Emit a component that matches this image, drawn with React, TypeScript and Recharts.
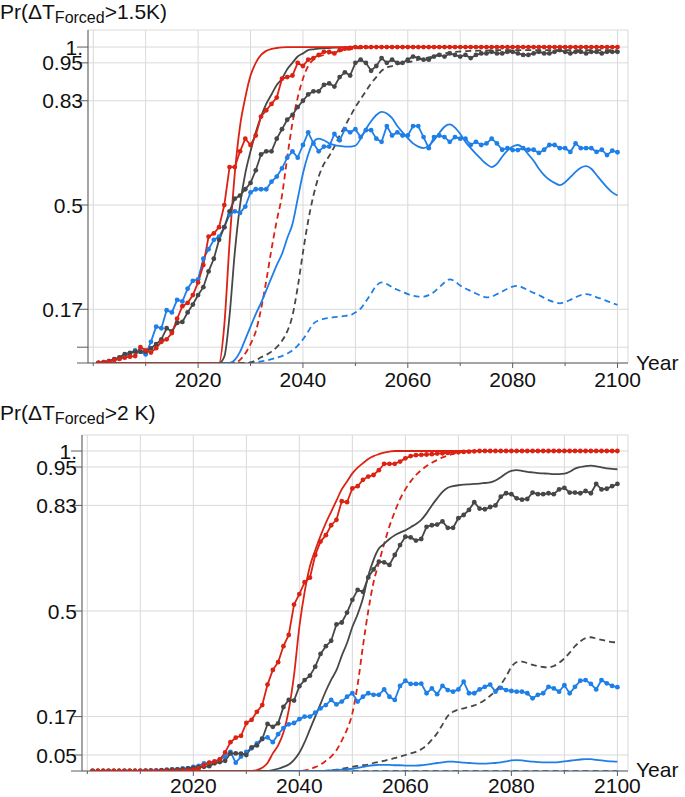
import { LineChart, Line, XAxis, YAxis, CartesianGrid } from 'recharts';

const RED = '#dc2212';
const BLUE = '#1f7fe8';
const GRAY = '#474747';
const AXIS = '#5c5c5c';
const GRID = '#d9d9d9';
const FONT = '"Liberation Sans", Arial, Helvetica, sans-serif';

const YEARS = Array.from({ length: 100 }, (_, i) => 2001 + i);
const X_TICKS = [2000, 2010, 2020, 2030, 2040, 2050, 2060, 2070, 2080, 2090, 2100];
const Y_TICKS = [0, 0.05, 0.17, 0.5, 0.83, 0.95, 1];
const TOP_Y_LABELS = ['', '', '0.17', '0.5', '0.83', '0.95', '1.'];
const BOTTOM_Y_LABELS = ['', '0.05', '0.17', '0.5', '0.83', '0.95', '1.'];

// ---- Pr(dT > 1.5K), 2001..2100 ----
const RED_DOTS_15 = [
  0, 0.003, 0.006, 0.01, 0.013, 0.017, 0.02, 0.022, 0.05, 0.04,
  0.033, 0.047, 0.067, 0.075, 0.095, 0.14, 0.18, 0.19, 0.215, 0.255,
  0.31, 0.4, 0.41, 0.43, 0.5, 0.62, 0.62, 0.67, 0.71, 0.69,
  0.72, 0.78, 0.8, 0.82, 0.84, 0.9, 0.905, 0.91, 0.95, 0.94,
  0.96, 0.965, 0.975, 0.985, 0.985, 0.98, 0.99, 0.995, 0.997, 1,
  1, 1, 1, 1, 1, 1, 1, 1, 1, 1,
  1, 1, 1, 1, 1, 1, 1, 1, 1, 1,
  1, 1, 1, 1, 1, 1, 1, 1, 1, 1,
  1, 1, 1, 1, 1, 1, 1, 1, 1, 1,
  1, 1, 1, 1, 1, 1, 1, 1, 1, 1,
];
const RED_LINE_15 = [
  0, 0, 0, 0, 0, 0, 0, 0, 0, 0,
  0, 0, 0, 0, 0, 0, 0, 0, 0, 0,
  0, 0, 0, 0, 0.12, 0.38, 0.6, 0.75, 0.84, 0.91,
  0.95, 0.975, 0.988, 0.994, 0.997, 0.999, 1, 1, 1, 1,
  1, 1, 1, 1, 1, 1, 1, 1, 1, 1,
  1, 1, 1, 1, 1, 1, 1, 1, 1, 1,
  1, 1, 1, 1, 1, 1, 1, 1, 1, 1,
  1, 1, 1, 1, 1, 1, 1, 1, 1, 1,
  1, 1, 1, 1, 1, 1, 1, 1, 1, 1,
  1, 1, 1, 1, 1, 1, 1, 1, 1, 1,
];
const RED_DASH_15 = [
  0, 0, 0, 0, 0, 0, 0, 0, 0, 0,
  0, 0, 0, 0, 0, 0, 0, 0, 0, 0,
  0, 0, 0, 0, 0, 0, 0, 0.01, 0.03, 0.06,
  0.1, 0.17, 0.26, 0.36, 0.45, 0.53, 0.65, 0.76, 0.84, 0.9,
  0.94, 0.96, 0.97, 0.975, 0.98, 0.985, 0.988, 0.99, 0.993, 0.995,
  0.997, 0.998, 0.999, 1, 1, 1, 1, 1, 1, 1,
  1, 1, 1, 1, 1, 1, 1, 1, 1, 1,
  1, 1, 1, 1, 1, 1, 1, 1, 1, 1,
  1, 1, 1, 1, 1, 1, 1, 1, 1, 1,
  1, 1, 1, 1, 1, 1, 1, 1, 1, 1,
];
const GRAY_DOTS_15 = [
  0, 0.002, 0.006, 0.012, 0.018, 0.028, 0.032, 0.036, 0.036, 0.036,
  0.046, 0.06, 0.075, 0.11, 0.1, 0.127, 0.13, 0.16, 0.185, 0.215,
  0.24, 0.29, 0.33, 0.39, 0.43, 0.48, 0.52, 0.53, 0.55, 0.57,
  0.61, 0.66, 0.67, 0.67, 0.71, 0.74, 0.77, 0.785, 0.81, 0.83,
  0.85, 0.86, 0.86, 0.88, 0.885, 0.875, 0.905, 0.92, 0.91, 0.95,
  0.96, 0.95, 0.925, 0.94, 0.965, 0.95, 0.96, 0.95, 0.95, 0.96,
  0.97, 0.965, 0.96, 0.96, 0.97, 0.975, 0.97, 0.98, 0.975, 0.97,
  0.975, 0.965, 0.975, 0.98, 0.98, 0.985, 0.98, 0.98, 0.985, 0.985,
  0.98, 0.975, 0.975, 0.98, 0.985, 0.98, 0.98, 0.985, 0.99, 0.985,
  0.98, 0.985, 0.985, 0.98, 0.985, 0.985, 0.98, 0.985, 0.985, 0.985,
];
const GRAY_LINE_15 = [
  0, 0, 0, 0, 0, 0, 0, 0, 0, 0,
  0, 0, 0, 0, 0, 0, 0, 0, 0, 0,
  0, 0, 0, 0, 0.02, 0.15, 0.35, 0.5, 0.6, 0.67,
  0.73, 0.78, 0.82, 0.85, 0.88, 0.9, 0.93, 0.95, 0.97, 0.98,
  0.99, 0.993, 0.995, 0.996, 0.997, 0.998, 0.998, 0.999, 0.999, 1,
  1, 1, 1, 1, 1, 1, 1, 1, 1, 1,
  1, 1, 1, 1, 1, 1, 1, 1, 1, 1,
  1, 1, 1, 1, 1, 1, 1, 1, 1, 1,
  1, 1, 1, 1, 1, 1, 1, 1, 1, 1,
  1, 1, 1, 1, 1, 1, 1, 1, 1, 1,
];
const GRAY_DASH_15 = [
  0, 0, 0, 0, 0, 0, 0, 0, 0, 0,
  0, 0, 0, 0, 0, 0, 0, 0, 0, 0,
  0, 0, 0, 0, 0, 0, 0, 0, 0, 0.002,
  0.008, 0.018, 0.026, 0.036, 0.05, 0.07, 0.1, 0.15, 0.24, 0.35,
  0.45, 0.53, 0.59, 0.63, 0.655, 0.685, 0.72, 0.75, 0.78, 0.81,
  0.835, 0.86, 0.885, 0.905, 0.925, 0.935, 0.94, 0.945, 0.95, 0.952,
  0.955, 0.96, 0.963, 0.967, 0.972, 0.977, 0.98, 0.983, 0.985, 0.986,
  0.987, 0.988, 0.988, 0.989, 0.989, 0.99, 0.99, 0.99, 0.99, 0.99,
  0.99, 0.99, 0.99, 0.99, 0.99, 0.99, 0.99, 0.99, 0.99, 0.99,
  0.99, 0.99, 0.99, 0.99, 0.99, 0.99, 0.99, 0.99, 0.99, 0.99,
];
const BLUE_DOTS_15 = [
  0, 0.003, 0.006, 0.01, 0.015, 0.02, 0.03, 0.04, 0.036, 0.027,
  0.067, 0.115, 0.11, 0.167, 0.16, 0.2, 0.195, 0.235, 0.26, 0.265,
  0.33, 0.36, 0.39, 0.4, 0.43, 0.47, 0.48, 0.475, 0.495, 0.54,
  0.55, 0.55, 0.55, 0.574, 0.59, 0.616, 0.65, 0.67, 0.65, 0.69,
  0.73, 0.695, 0.67, 0.685, 0.685, 0.725, 0.705, 0.74, 0.73, 0.74,
  0.715, 0.737, 0.737, 0.71, 0.7, 0.75, 0.72, 0.73, 0.72, 0.72,
  0.75, 0.75, 0.715, 0.68, 0.715, 0.72, 0.715, 0.7, 0.715, 0.71,
  0.71, 0.69, 0.7, 0.69, 0.695, 0.71, 0.695, 0.675, 0.68, 0.674,
  0.674, 0.68, 0.675, 0.675, 0.665, 0.675, 0.69, 0.69, 0.68, 0.68,
  0.668, 0.695, 0.68, 0.68, 0.68, 0.668, 0.675, 0.658, 0.672, 0.667,
];
const BLUE_LINE_15 = [
  0, 0, 0, 0, 0, 0, 0, 0, 0, 0,
  0, 0, 0, 0, 0, 0, 0, 0, 0, 0,
  0, 0, 0, 0, 0, 0, 0.01, 0.035, 0.075, 0.115,
  0.155, 0.19, 0.23, 0.27, 0.31, 0.345, 0.395, 0.44, 0.52, 0.6,
  0.66, 0.7, 0.71, 0.705, 0.695, 0.69, 0.687, 0.685, 0.685, 0.688,
  0.71, 0.74, 0.765, 0.785, 0.795, 0.79, 0.775, 0.75, 0.73, 0.712,
  0.695, 0.685, 0.68, 0.688, 0.705, 0.728, 0.748, 0.755, 0.745, 0.725,
  0.7, 0.68, 0.662, 0.645, 0.63, 0.62, 0.63, 0.653, 0.672, 0.685,
  0.69, 0.68, 0.66, 0.64, 0.615, 0.595, 0.58, 0.57, 0.563, 0.572,
  0.588, 0.605, 0.618, 0.623, 0.615, 0.595, 0.575, 0.556, 0.54, 0.53,
];
const BLUE_DASH_15 = [
  0, 0, 0, 0, 0, 0, 0, 0, 0, 0,
  0, 0, 0, 0, 0, 0, 0, 0, 0, 0,
  0, 0, 0, 0, 0, 0, 0, 0, 0, 0.001,
  0.003, 0.005, 0.008, 0.012, 0.017, 0.022, 0.03, 0.04, 0.055, 0.075,
  0.1, 0.125, 0.135, 0.14, 0.143, 0.145, 0.147, 0.149, 0.151, 0.16,
  0.172, 0.195, 0.22, 0.245, 0.255, 0.25, 0.24, 0.232, 0.225, 0.218,
  0.213, 0.21, 0.21, 0.215, 0.225, 0.24, 0.255, 0.265, 0.258, 0.245,
  0.236, 0.228, 0.22, 0.213, 0.208, 0.21, 0.218, 0.226, 0.235, 0.242,
  0.244, 0.238, 0.23, 0.222, 0.215, 0.206, 0.198, 0.192, 0.189, 0.193,
  0.2, 0.208, 0.215, 0.218, 0.215, 0.208, 0.203, 0.196, 0.19, 0.184,
];

// ---- Pr(dT > 2 K), 2001..2100 ----
const RED_DOTS_2 = [
  0, 0, 0, 0, 0, 0, 0, 0, 0, 0,
  0, 0, 0, 0, 0, 0, 0, 0, 0.002, 0.004,
  0.008, 0.018, 0.026, 0.03, 0.036, 0.058, 0.09, 0.104, 0.11, 0.15,
  0.16, 0.185, 0.206, 0.27, 0.316, 0.34, 0.39, 0.425, 0.52, 0.553,
  0.59, 0.604, 0.675, 0.717, 0.737, 0.768, 0.785, 0.843, 0.84, 0.883,
  0.89, 0.91, 0.92, 0.925, 0.94, 0.96, 0.96, 0.96, 0.967, 0.977,
  0.984, 0.987, 0.988, 0.989, 0.99, 0.992, 0.993, 0.994, 0.995, 0.996,
  0.997, 0.998, 0.999, 1, 1, 1, 1, 1, 1, 1,
  1, 1, 1, 1, 1, 1, 1, 1, 1, 1,
  1, 1, 1, 1, 1, 1, 1, 1, 1, 1,
];
const RED_LINE_2 = [
  0, 0, 0, 0, 0, 0, 0, 0, 0, 0,
  0, 0, 0, 0, 0, 0, 0, 0, 0, 0,
  0, 0, 0, 0, 0, 0, 0, 0, 0, 0,
  0, 0.003, 0.01, 0.025, 0.055, 0.08, 0.12, 0.19, 0.3, 0.45,
  0.56, 0.64, 0.69, 0.735, 0.775, 0.81, 0.845, 0.88, 0.905, 0.93,
  0.948, 0.962, 0.975, 0.984, 0.99, 0.995, 0.998, 1, 1, 1,
  1, 1, 1, 1, 1, 1, 1, 1, 1, 1,
  1, 1, 1, 1, 1, 1, 1, 1, 1, 1,
  1, 1, 1, 1, 1, 1, 1, 1, 1, 1,
  1, 1, 1, 1, 1, 1, 1, 1, 1, 1,
];
const RED_DASH_2 = [
  0, 0, 0, 0, 0, 0, 0, 0, 0, 0,
  0, 0, 0, 0, 0, 0, 0, 0, 0, 0,
  0, 0, 0, 0, 0, 0, 0, 0, 0, 0,
  0, 0, 0, 0, 0, 0, 0, 0, 0, 0,
  0.002, 0.006, 0.012, 0.02, 0.032, 0.045, 0.065, 0.095, 0.13, 0.18,
  0.27, 0.39, 0.5, 0.59, 0.65, 0.71, 0.765, 0.81, 0.85, 0.88,
  0.905, 0.925, 0.94, 0.953, 0.963, 0.972, 0.98, 0.986, 0.991, 0.995,
  0.998, 1, 1, 1, 1, 1, 1, 1, 1, 1,
  1, 1, 1, 1, 1, 1, 1, 1, 1, 1,
  1, 1, 1, 1, 1, 1, 1, 1, 1, 1,
];
const GRAY_DOTS_2 = [
  0, 0, 0, 0, 0, 0, 0, 0, 0, 0,
  0, 0, 0, 0.002, 0.003, 0.004, 0.005, 0.006, 0.008, 0.01,
  0.012, 0.013, 0.015, 0.024, 0.028, 0.032, 0.055, 0.055, 0.054, 0.05,
  0.074, 0.08, 0.1, 0.147, 0.138, 0.149, 0.2, 0.222, 0.22, 0.265,
  0.284, 0.298, 0.326, 0.366, 0.39, 0.407, 0.458, 0.464, 0.495, 0.535,
  0.566, 0.56, 0.605, 0.63, 0.654, 0.652, 0.644, 0.675, 0.706, 0.732,
  0.73, 0.72, 0.725, 0.763, 0.768, 0.77, 0.78, 0.76, 0.76, 0.79,
  0.8, 0.816, 0.84, 0.82, 0.818, 0.825, 0.83, 0.857, 0.868, 0.865,
  0.852, 0.848, 0.85, 0.87, 0.865, 0.865, 0.868, 0.865, 0.88, 0.885,
  0.87, 0.87, 0.868, 0.875, 0.868, 0.897, 0.88, 0.882, 0.89, 0.897,
];
const GRAY_LINE_2 = [
  0, 0, 0, 0, 0, 0, 0, 0, 0, 0,
  0, 0, 0, 0, 0, 0, 0, 0, 0, 0,
  0, 0, 0, 0, 0, 0, 0, 0, 0, 0,
  0, 0, 0, 0, 0.003, 0.007, 0.013, 0.02, 0.035, 0.057,
  0.09, 0.13, 0.17, 0.21, 0.25, 0.285, 0.315, 0.36, 0.4, 0.45,
  0.49, 0.54, 0.61, 0.66, 0.695, 0.71, 0.725, 0.737, 0.745, 0.752,
  0.762, 0.772, 0.785, 0.805, 0.83, 0.852, 0.872, 0.885, 0.89, 0.893,
  0.895, 0.896, 0.897, 0.898, 0.9, 0.902, 0.908, 0.918, 0.93, 0.938,
  0.94, 0.938, 0.935, 0.933, 0.931, 0.93, 0.929, 0.928, 0.928, 0.929,
  0.935, 0.945, 0.95, 0.953, 0.954, 0.952, 0.949, 0.946, 0.944, 0.943,
];
const GRAY_DASH_2 = [
  0, 0, 0, 0, 0, 0, 0, 0, 0, 0,
  0, 0, 0, 0, 0, 0, 0, 0, 0, 0,
  0, 0, 0, 0, 0, 0, 0, 0, 0, 0,
  0, 0, 0, 0, 0, 0, 0, 0, 0, 0,
  0, 0, 0, 0, 0, 0.002, 0.004, 0.007, 0.01, 0.013,
  0.016, 0.018, 0.02, 0.025, 0.028, 0.032, 0.036, 0.04, 0.045, 0.05,
  0.055, 0.06, 0.068, 0.08, 0.098, 0.118, 0.145, 0.172, 0.185, 0.192,
  0.196, 0.2, 0.205, 0.212, 0.222, 0.235, 0.25, 0.27, 0.295, 0.325,
  0.34, 0.342, 0.337, 0.332, 0.328, 0.325, 0.324, 0.328, 0.338, 0.352,
  0.37, 0.39, 0.405, 0.415, 0.418, 0.414, 0.41, 0.406, 0.403, 0.402,
];
const BLUE_DOTS_2 = [
  0, 0, 0, 0, 0, 0, 0, 0, 0, 0,
  0.001, 0.002, 0.002, 0.003, 0.004, 0.005, 0.005, 0.008, 0.008, 0.013,
  0.016, 0.024, 0.025, 0.028, 0.036, 0.045, 0.06, 0.026, 0.045, 0.06,
  0.071, 0.086, 0.102, 0.105, 0.09, 0.115, 0.134, 0.146, 0.15, 0.162,
  0.17, 0.17, 0.182, 0.196, 0.206, 0.222, 0.208, 0.217, 0.232, 0.243,
  0.217, 0.232, 0.243, 0.238, 0.238, 0.255, 0.232, 0.222, 0.266, 0.282,
  0.272, 0.272, 0.273, 0.243, 0.258, 0.24, 0.266, 0.253, 0.248, 0.255,
  0.279, 0.243, 0.243, 0.255, 0.263, 0.27, 0.248, 0.26, 0.253, 0.25,
  0.248, 0.248, 0.243, 0.227, 0.238, 0.243, 0.263, 0.258, 0.248, 0.268,
  0.243, 0.263, 0.282, 0.284, 0.272, 0.255, 0.284, 0.274, 0.266, 0.262,
];
const BLUE_LINE_2 = [
  0, 0, 0, 0, 0, 0, 0, 0, 0, 0,
  0, 0, 0, 0, 0, 0, 0, 0, 0, 0,
  0, 0, 0, 0, 0, 0, 0, 0, 0, 0,
  0, 0, 0, 0, 0, 0, 0, 0, 0, 0,
  0, 0, 0, 0, 0.001, 0.002, 0.003, 0.004, 0.005, 0.007,
  0.01, 0.013, 0.016, 0.018, 0.019, 0.019, 0.019, 0.018, 0.018, 0.017,
  0.017, 0.017, 0.018, 0.02, 0.022, 0.025, 0.027, 0.029, 0.029, 0.028,
  0.026, 0.025, 0.024, 0.023, 0.023, 0.024, 0.025, 0.027, 0.03, 0.033,
  0.034, 0.033, 0.031, 0.029, 0.028, 0.027, 0.027, 0.027, 0.028, 0.03,
  0.032, 0.034, 0.036, 0.037, 0.037, 0.035, 0.033, 0.031, 0.03, 0.029,
];
const BLUE_DASH_2 = [
  0, 0, 0, 0, 0, 0, 0, 0, 0, 0,
  0, 0, 0, 0, 0, 0, 0, 0, 0, 0,
  0, 0, 0, 0, 0, 0, 0, 0, 0, 0,
  0, 0, 0, 0, 0, 0, 0, 0, 0, 0,
  0, 0, 0, 0, 0, 0, 0, 0, 0, 0,
  0, 0, 0, 0, 0, 0, 0, 0, 0, 0,
  0, 0, 0, 0, 0, 0, 0, 0, 0, 0,
  0, 0, 0, 0, 0, 0, 0, 0, 0, 0,
  0, 0, 0, 0, 0, 0, 0, 0, 0, 0,
  0, 0, 0, 0, 0, 0, 0, 0, 0, 0,
];

const topRows = YEARS.map((year, i) => ({
  year,
  redDots: RED_DOTS_15[i], redLine: RED_LINE_15[i], redDash: RED_DASH_15[i],
  grayDots: GRAY_DOTS_15[i], grayLine: GRAY_LINE_15[i], grayDash: GRAY_DASH_15[i],
  blueDots: BLUE_DOTS_15[i], blueLine: BLUE_LINE_15[i], blueDash: BLUE_DASH_15[i],
}));

const bottomRows = YEARS.map((year, i) => ({
  year,
  redDots: RED_DOTS_2[i], redLine: RED_LINE_2[i], redDash: RED_DASH_2[i],
  grayDots: GRAY_DOTS_2[i], grayLine: GRAY_LINE_2[i], grayDash: GRAY_DASH_2[i],
  blueDots: BLUE_DOTS_2[i], blueLine: BLUE_LINE_2[i], blueDash: BLUE_DASH_2[i],
}));

const makeYTick = (labels: string[]) => (props: any) => {
  const { x, y, payload } = props;
  const label = labels[Y_TICKS.indexOf(payload.value)];
  return (
    <g>
      <line x1={x - 11} x2={x} y1={y} y2={y} stroke={AXIS} />
      {label ? (
        <text x={x - 5} y={y} dy="0.36em" textAnchor="end" fontSize={21} fontFamily={FONT} fill="#111">
          {label}
        </text>
      ) : null}
    </g>
  );
};

const makeXTick = (labelDy: number) => (props: any) => {
  const { x, y, payload } = props;
  const v = payload.value;
  const labeled = v >= 2020 && v % 20 === 0;
  return (
    <g>
      <line x1={x} x2={x} y1={y} y2={y + (labeled ? 5 : 3)} stroke={AXIS} />
      {labeled ? (
        <text x={x} y={y + labelDy} textAnchor="middle" fontSize={21} fontFamily={FONT} fill="#111">
          {v}
        </text>
      ) : null}
    </g>
  );
};

interface PanelProps {
  rows: any[];
  height: number;
  top: number;
  bottom: number;
  yAxisWidth: number;
  xAxisHeight: number;
  yMax: number;
  yLabels: string[];
  labelDy: number;
}

const Panel = ({ rows, height, top, bottom, yAxisWidth, xAxisHeight, yMax, yLabels, labelDy }: PanelProps) => {
  const dots = (color: string) => ({ r: 2.4, fill: color, stroke: 'none' });
  return (
    <LineChart width={685} height={height} data={rows} margin={{ top, right: 57, bottom, left: 0 }}>
      <CartesianGrid stroke={GRID} />
      <XAxis
        dataKey="year"
        type="number"
        domain={[1999, 2102]}
        ticks={X_TICKS}
        interval={0}
        allowDataOverflow
        height={xAxisHeight}
        tickSize={0}
        tickMargin={0}
        tickLine={false}
        axisLine={{ stroke: AXIS }}
        tick={makeXTick(labelDy)}
      />
      <YAxis
        type="number"
        domain={[0, yMax]}
        ticks={Y_TICKS}
        interval={0}
        allowDataOverflow
        width={yAxisWidth}
        tickSize={0}
        tickMargin={0}
        tickLine={false}
        axisLine={{ stroke: AXIS }}
        tick={makeYTick(yLabels)}
      />
      <Line dataKey="blueDash" type="monotone" stroke={BLUE} strokeWidth={1.8} strokeDasharray="6 4" dot={false} activeDot={false} isAnimationActive={false} />
      <Line dataKey="grayDash" type="monotone" stroke={GRAY} strokeWidth={1.8} strokeDasharray="6 4" dot={false} activeDot={false} isAnimationActive={false} />
      <Line dataKey="redDash" type="monotone" stroke={RED} strokeWidth={1.8} strokeDasharray="6 4" dot={false} activeDot={false} isAnimationActive={false} />
      <Line dataKey="blueLine" type="monotone" stroke={BLUE} strokeWidth={1.8} dot={false} activeDot={false} isAnimationActive={false} />
      <Line dataKey="grayLine" type="monotone" stroke={GRAY} strokeWidth={1.8} dot={false} activeDot={false} isAnimationActive={false} />
      <Line dataKey="redLine" type="monotone" stroke={RED} strokeWidth={1.8} dot={false} activeDot={false} isAnimationActive={false} />
      <Line dataKey="blueDots" type="linear" stroke={BLUE} strokeWidth={1.8} dot={dots(BLUE)} activeDot={false} isAnimationActive={false} />
      <Line dataKey="grayDots" type="linear" stroke={GRAY} strokeWidth={1.8} dot={dots(GRAY)} activeDot={false} isAnimationActive={false} />
      <Line dataKey="redDots" type="linear" stroke={RED} strokeWidth={1.8} dot={dots(RED)} activeDot={false} isAnimationActive={false} />
    </LineChart>
  );
};

export default function App() {
  return (
    <div style={{ position: 'absolute', left: 0, top: 0, width: 685, height: 797, background: '#fff' }}>
      <div style={{ position: 'absolute', left: 0, top: 0 }}>
        <Panel rows={topRows} height={400} top={30} bottom={7} yAxisWidth={88} xAxisHeight={30}
          yMax={1.054} yLabels={TOP_Y_LABELS} labelDy={24} />
      </div>
      <div style={{ position: 'absolute', left: 0, top: 400 }}>
        <Panel rows={bottomRows} height={397} top={35} bottom={6} yAxisWidth={82} xAxisHeight={20}
          yMax={1.05} yLabels={BOTTOM_Y_LABELS} labelDy={22} />
      </div>
      <svg width={685} height={797} style={{ position: 'absolute', left: 0, top: 0, pointerEvents: 'none' }}
        fontFamily={FONT} fill="#111">
        <text x={0} y={19} fontSize={21}>
          Pr(ΔT<tspan fontSize={16} dy={4}>Forced</tspan><tspan dy={-4}>&gt;1.5K)</tspan>
        </text>
        <text x={0} y={420} fontSize={21}>
          Pr(ΔT<tspan fontSize={16} dy={4}>Forced</tspan><tspan dy={-4}>&gt;2 K)</tspan>
        </text>
        <text x={636} y={370} fontSize={21}>Year</text>
        <text x={636} y={777} fontSize={21}>Year</text>
      </svg>
    </div>
  );
}
